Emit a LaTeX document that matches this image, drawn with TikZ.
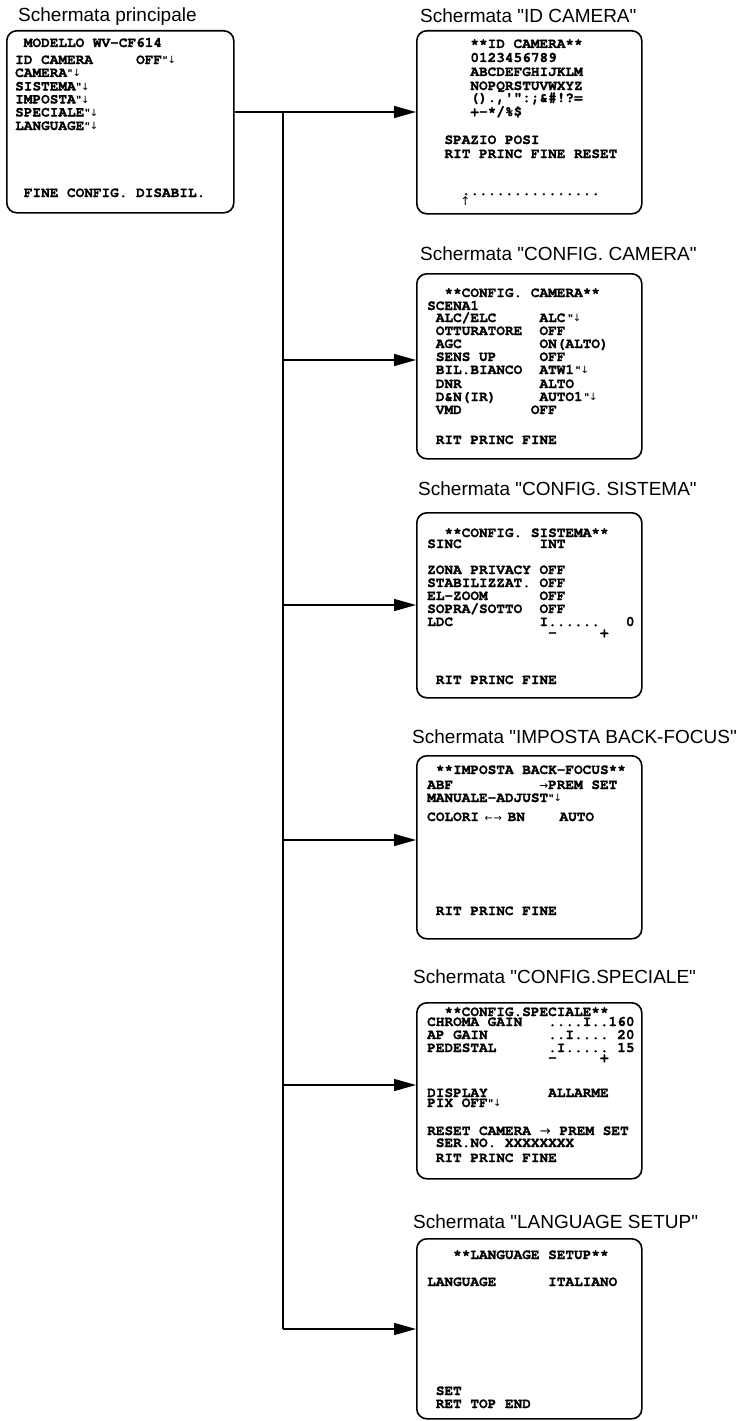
\documentclass[tikz,border=0pt]{standalone}
\usepackage{fontspec}
\setmainfont{Liberation Sans}
\newfontfamily\screenfont{texgyrecursor-bold}[Extension=.otf, FakeBold=1.2]
\newfontfamily\symfont{DejaVu Sans}
\usetikzlibrary{arrows.meta,positioning}

% one character cell of the screen font
\newcommand\cellw{8.64pt}
% enter mark, arrows
\newcommand\entr{{\fontsize{10}{10}\selectfont\raisebox{1.5pt}{"}}\kern-0.5pt{\fontsize{10}{10}\symfont\raisebox{0.5pt}{↓}}}
\newcommand\symR{\makebox[\cellw]{\fontsize{11}{11}\symfont →}}
\newcommand\symLR{\makebox[2\cellw]{\fontsize{10}{10}\symfont ←\kern0.5pt→}}

\begin{document}
\frenchspacing
\begin{tikzpicture}[
        x=1pt, y=-1pt,
        screen/.style={draw, line width=1.6pt, rounded corners=10pt, inner sep=0pt, anchor=north west},
        wire/.style={draw, line width=1.3pt},
        feed/.style={wire, -{Triangle[length=22pt,width=12pt]}},
        title/.style={font=\fontsize{19}{22}\selectfont, anchor=base west, inner sep=0pt},
        osd/.style={font=\fontsize{14.4}{14}\screenfont, anchor=base west, inner sep=0pt},
    ]
    \useasboundingbox (0,0) rectangle (746,1421);

    % === MAIN SCREEN ===
    \node[title] (main-title) at (18,22) {Schermata principale};
    \node[screen, minimum width=227, minimum height=182] (main) at (6,30) {};
    \foreach \y/\txt [count=\i] in {47/{~MODELLO WV-CF614}, 64/{ID CAMERA~~~~~OFF\entr},
        77/{CAMERA\entr}, 90.5/{SISTEMA\entr}, 103.5/{IMPOSTA\entr}, 116.5/{SPECIALE\entr},
        130/{LANGUAGE\entr}, 197/{~FINE CONFIG. DISABIL.}}
        \node[osd] (main-\i) at (15,\y) {\txt};

    % === ID CAMERA ===
    \node[title] (idcam-title) at (420,23) {Schermata \textquotedbl ID CAMERA\textquotedbl};
    \node[screen, minimum width=225, minimum height=183] (idcam) at (416,30) {};
    \foreach \y/\txt [count=\i] in {48/{~~~~~**ID CAMERA**}, 62/{~~~~~0123456789},
        76/{~~~~~ABCDEFGHIJKLM}, 90/{~~~~~NOPQRSTUVWXYZ}, 102/{~~~~~().,'":;\&\#!?=},
        116/{~~~~~+-*/\%\$}, 144/{~~SPAZIO POSI}, 158/{~~RIT PRINC FINE RESET},
        195/{~~~~................}}
        \node[osd] (idcam-\i) at (427,\y) {\txt};
    \node[inner sep=0pt, anchor=north, font=\fontsize{12}{12}\symfont] (idcam-cur) at (465.5,197) {↑};

    % === CONFIG. CAMERA ===
    \node[title] (cam-title) at (420,260) {Schermata \textquotedbl CONFIG. CAMERA\textquotedbl};
    \node[screen, minimum width=225, minimum height=185] (cam) at (416,273) {};
    \foreach \y/\txt [count=\i] in {297/{~~**CONFIG. CAMERA**}, 310/{SCENA1},
        322/{~ALC/ELC~~~~~ALC\kern2pt\entr}, 335/{~OTTURATORE~~OFF},
        348/{~AGC~~~~~~~~~ON(ALTO)}, 361/{~SENS UP~~~~~OFF},
        374/{~BIL.BIANCO~~ATW1\kern1pt\entr}, 388/{~DNR~~~~~~~~~ALTO},
        401/{~D\&N(IR)~~~~~AUTO1\kern1pt\entr}, 414/{~VMD~~~~~~~~OFF},
        444/{~RIT PRINC FINE}}
        \node[osd] (cam-\i) at (427,\y) {\txt};

    % === CONFIG. SISTEMA ===
    \node[title] (sys-title) at (418,495) {Schermata \textquotedbl CONFIG. SISTEMA\textquotedbl};
    \node[screen, minimum width=225, minimum height=185] (sys) at (416,512) {};
    \foreach \y/\txt [count=\i] in {537/{~~**CONFIG. SISTEMA**}, 548/{SINC~~~~~~~~~INT},
        574/{ZONA PRIVACY~OFF}, 587/{STABILIZZAT.~OFF}, 600/{EL-ZOOM~~~~~~OFF},
        613/{SOPRA/SOTTO~~OFF}, 626/{LDC~~~~~~~~~~I......~~~0},
        637/{~~~~~~~~~~~~~~-~~~~~+}, 684/{~RIT PRINC FINE}}
        \node[osd] (sys-\i) at (427,\y) {\txt};

    % === IMPOSTA BACK-FOCUS ===
    \node[title] (abf-title) at (412,743) {Schermata \textquotedbl IMPOSTA BACK-FOCUS\textquotedbl};
    \node[screen, minimum width=225, minimum height=183] (abf) at (416,755) {};
    \foreach \y/\txt [count=\i] in {774/{~**IMPOSTA BACK-FOCUS**}, 789/{ABF~~~~~~~~~~\symR PREM SET},
        802/{MANUALE-ADJUST\entr}, 821/{COLORI\symLR BN~~~~AUTO}, 915/{~RIT PRINC FINE}}
        \node[osd] (abf-\i) at (427,\y) {\txt};

    % === CONFIG.SPECIALE ===
    \node[title] (spec-title) at (413,983) {Schermata \textquotedbl CONFIG.SPECIALE\textquotedbl};
    \node[screen, minimum width=225, minimum height=176] (spec) at (416,1002) {};
    \foreach \y/\txt [count=\i] in {1016/{~~**CONFIG.SPECIALE**}, 1026/{CHROMA GAIN~~~....I..160},
        1039/{AP GAIN~~~~~~~..I....~20}, 1052/{PEDESTAL~~~~~~.I.....~15},
        1062/{~~~~~~~~~~~~~~-~~~~~+}, 1097/{DISPLAY~~~~~~~ALLARME}, 1107/{PIX OFF\entr},
        1135/{RESET CAMERA\makebox[2\cellw]{\fontsize{13}{13}\symfont →}PREM SET},
        1147/{~SER.NO. XXXXXXXX}, 1162/{~RIT PRINC FINE}}
        \node[osd] (spec-\i) at (427,\y) {\txt};

    % === LANGUAGE SETUP ===
    \node[title] (lang-title) at (413,1228) {Schermata \textquotedbl LANGUAGE SETUP\textquotedbl};
    \node[screen, minimum width=225, minimum height=180] (lang) at (416,1238) {};
    \foreach \y/\txt [count=\i] in {1259/{~~~**LANGUAGE SETUP**}, 1286/{LANGUAGE~~~~~~ITALIANO},
        1395/{~SET}, 1408/{~RET TOP END}}
        \node[osd] (lang-\i) at (427,\y) {\txt};

    % === CONNECTORS ===
    \coordinate (j1) at (283,112);
    \coordinate (j2) at (283,360);
    \coordinate (j3) at (283,605);
    \coordinate (j4) at (283,840);
    \coordinate (j5) at (283,1085);
    \coordinate (j6) at (283,1329);
    \draw[wire] (main.east |- j1) -- (j1) -- (j6);
    \draw[feed] (j1) -- (j1 -| idcam.west);
    \draw[feed] (j2) -- (j2 -| cam.west);
    \draw[feed] (j3) -- (j3 -| sys.west);
    \draw[feed] (j4) -- (j4 -| abf.west);
    \draw[feed] (j5) -- (j5 -| spec.west);
    \draw[feed] (j6) -- (j6 -| lang.west);
\end{tikzpicture}
\end{document}
